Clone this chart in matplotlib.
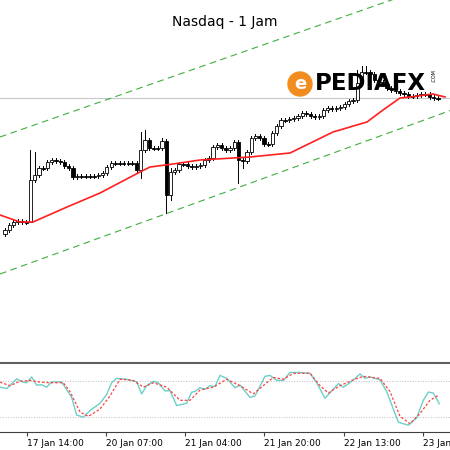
import matplotlib
matplotlib.use("Agg")
import matplotlib.pyplot as plt
import numpy as np
from matplotlib.patches import Rectangle, Circle

# price in screen-like units (larger = lower on chart)
closes = [230,225,222,221,222,222,180,175,168,168,162,160,161,162,166,168,177,176,176,176,
          176,176,175,173,167,163,163,163,163,163,163,170,150,140,148,148,148,141,195,172,
          170,164,164,166,167,166,165,160,158,147,145,148,150,148,142,160,161,152,138,136,
          138,144,144,133,126,120,120,119,118,116,113,114,116,117,116,110,108,109,108,107,
          104,101,100,83,72,72,74,80,82,84,88,90,91,93,94,96,96,95,94,94,97,98,98]
opens0 = 234
wick_hi = {6: 150, 7: 152, 32: 132, 33: 130, 37: 138, 39: 168, 55: 140, 83: 70, 84: 66, 85: 66}
wick_lo = {6: 220, 32: 178, 38: 213, 39: 200, 55: 183, 56: 168}

ma_x = [0, 20, 33, 67, 100, 140, 150, 173, 200, 250, 290, 333, 367, 383, 400, 410, 433, 445]
ma_y = [215, 222, 222, 207, 193, 172, 167, 164, 160, 157, 153, 132, 122, 110, 98, 97, 94, 97]

stoch_zx = [0,20,50,70,80,95,110,125,140,155,185,215,230,250,270,300,320,335,350,380,410,425,440,460,475,495,510,530,560,575,585,600,615,630,645,660,680,705,720,750,765,795,810,830,850,870,900,930,950,975,995,1015,1030,1050,1080,1095,1110,1140,1160,1195,1225,1250,1270,1285,1300,1318]
stoch_zy = [105,110,77,88,90,70,98,97,105,87,87,140,200,208,185,160,130,90,75,78,87,128,100,85,90,118,117,168,160,122,120,107,112,100,103,65,75,107,98,140,135,68,65,82,82,55,55,58,90,143,118,93,105,90,60,75,70,80,120,225,235,210,150,122,125,162]
sig_zx = [0,30,60,90,120,150,190,210,240,265,300,330,360,400,430,460,500,540,570,600,640,680,720,760,800,820,850,880,930,960,985,1020,1060,1090,1140,1170,1200,1230,1260,1290,1315]
sig_zy = [88,100,85,82,88,90,90,120,190,205,180,135,78,82,105,90,105,150,150,115,105,78,100,128,90,72,78,58,57,100,125,100,80,68,75,120,205,230,195,150,133]

tick_x = [27, 106, 185, 264, 344, 423]
tick_labels = ["17 Jan 14:00", "20 Jan 07:00", "21 Jan 04:00", "21 Jan 20:00", "22 Jan 13:00", "23 Jan 05:00"]

fig = plt.figure(figsize=(4.5, 4.5), dpi=100)
ax = fig.add_axes([0, 1 - 362/450, 1, 362/450])
ax.set_xlim(0, 450); ax.set_ylim(362, 0)
ax.axis("off")

n = len(closes)
step = (438 - 5) / (n - 1)
prev = opens0
for i, c in enumerate(closes):
    x = 5 + i * step
    o = prev
    top, bot = min(o, c), max(o, c)
    hi = wick_hi.get(i, top - 2)
    lo = wick_lo.get(i, bot + 2)
    ax.plot([x, x], [hi, lo], color="black", lw=0.7, zorder=2)
    bull = c < o
    h = max(bot - top, 0.8)
    ax.add_patch(Rectangle((x - 1.6, top), 3.2, h, facecolor="white" if bull else "black",
                           edgecolor="black", lw=0.6, zorder=3))
    prev = c

ax.plot(ma_x, ma_y, color="#ff2020", lw=1.2, zorder=4)
ax.axhline(98, color="#c8c8c8", lw=0.8, zorder=1)
xs = np.array([0, 450])
ax.plot(xs, 137 - 0.35 * xs, color="#3fae3f", lw=0.8, ls=(0, (6, 4)), zorder=1)
ax.plot(xs, 274 - 0.363 * xs, color="#3fae3f", lw=0.8, ls=(0, (6, 4)), zorder=1)

ax.text(225, 22, "Nasdaq - 1 Jam", ha="center", va="center", fontsize=10)
# logo
ax.add_patch(Circle((300, 84), 12, color="#f28c1e", zorder=5))
ax.text(300, 84, "e", ha="center", va="center", fontsize=13, color="white", weight="bold", zorder=6)
ax.text(315, 84, "PEDIAFX", ha="left", va="center", fontsize=16.5, weight="bold", color="black", zorder=6)
ax.text(434, 76, ".COM", ha="center", va="center", fontsize=3.5, rotation=90, zorder=6)

# separator
fig.add_artist(plt.Line2D([0, 1], [1 - 363/450] * 2, color="#606060", lw=1.5))

ax2 = fig.add_axes([0, 18/450, 1, 66/450])
ax2.set_xlim(0, 450); ax2.set_ylim(-5, 105)
for s in ax2.spines.values():
    s.set_visible(False)
ax2.spines["bottom"].set_visible(True)
ax2.spines["bottom"].set_color("#404040")
ax2.set_yticks([])
conv = lambda zy: [20 + (419 - (350 + v / 3)) / 41 * 60 for v in zy]
ax2.axhline(80, color="#bbbbbb", lw=0.7, ls=":")
ax2.axhline(20, color="#bbbbbb", lw=0.7, ls=":")
ax2.plot([v / 3 for v in stoch_zx], conv(stoch_zy), color="#6ccfc8", lw=1.0)
ax2.plot([v / 3 for v in sig_zx], conv(sig_zy), color="#ff4040", lw=0.9, ls=(0, (2, 1.5)))
ax2.set_xticks(tick_x)
ax2.set_xticklabels(tick_labels, fontsize=6.5, ha="left")
ax2.tick_params(axis="x", length=3, pad=2, color="#404040")

fig.savefig("out.png", dpi=100)
